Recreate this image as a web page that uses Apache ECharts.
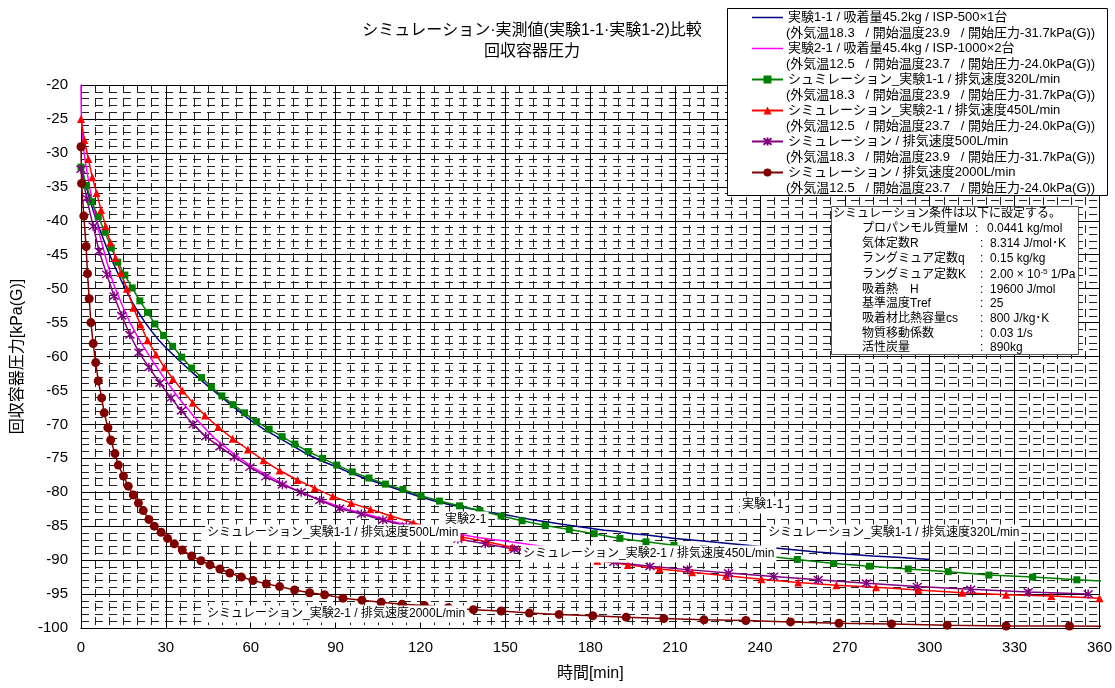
<!DOCTYPE html>
<html>
<head>
<meta charset="utf-8">
<script src="https://cdn.jsdelivr.net/npm/echarts@6/dist/echarts.min.js"></script>
<style>
html,body{margin:0;padding:0;background:#fff;}
#chart{width:1115px;height:688px;}
</style>
</head>
<body>
<div id="chart"></div>
<script>
// ---- data: [time (min), pressure (kPa(G))] ----
const seriesNames = [
  '実験1-1 / 吸着量45.2kg / ISP-500×1台',
  '実験2-1 / 吸着量45.4kg / ISP-1000×2台',
  'シュミレーション_実験1-1 / 排気速度320L/min',
  'シミュレーション_実験2-1 / 排気速度450L/min',
  'シミュレーション / 排気速度500L/min',
  'シミュレーション / 排気速度2000L/min'
];
const legendNotes = [
  '(外気温18.3   / 開始温度23.9   / 開始圧力-31.7kPa(G))',
  '(外気温12.5   / 開始温度23.7   / 開始圧力-24.0kPa(G))',
  '(外気温18.3   / 開始温度23.9   / 開始圧力-31.7kPa(G))',
  '(外気温12.5   / 開始温度23.7   / 開始圧力-24.0kPa(G))',
  '(外気温18.3   / 開始温度23.9   / 開始圧力-31.7kPa(G))',
  '(外気温12.5   / 開始温度23.7   / 開始圧力-24.0kPa(G))'
];

const expt11 = [[0,-31.7],[1,-33.5],[2,-35.2],[3,-36.7],[4,-38.1],[5,-39.4],[6,-40.6],[8,-42.8],[10,-44.9],[12,-46.8],[14,-48.6],[16,-50.3],[18,-51.9],[20,-53.3],[22.5,-54.9],[25,-56.3],[27.5,-57.6],[30,-58.7],[35,-60.7],[40,-62.6],[45,-64.4],[50,-66.1],[55,-67.8],[60,-69.4],[65,-70.8],[70,-72.0],[75,-73.2],[80,-74.4],[85,-75.4],[90,-76.2],[95,-77.1],[100,-77.9],[105,-78.6],[110,-79.3],[115,-80.0],[120,-80.7],[125,-81.3],[130,-81.8],[135,-82.2],[140,-82.6],[145,-83.0],[150,-83.3],[155,-83.7],[160,-84.1],[165,-84.4],[170,-84.7],[175,-85.0],[180,-85.3],[185,-85.6],[190,-85.8],[195,-86.1],[200,-86.3],[210,-86.8],[220,-87.2],[230,-87.6],[240,-88.0],[250,-88.4],[260,-88.8],[270,-89.1],[280,-89.4],[290,-89.6],[300,-89.9]];

const expt21 = [[0,-20],[0.1,-24.2],[0.8,-29.1],[2,-32.5],[3.2,-35.4],[4.9,-38.9],[6.7,-42.3],[9.1,-46.0],[11.4,-49.2],[14.4,-52.3],[17.3,-55.0],[20.8,-57.7],[24.9,-60.4],[29.6,-63.3],[34.3,-66.0],[40.2,-69.0],[47.3,-72.1],[54.4,-74.5],[61.4,-76.5],[68.5,-78.1],[75.5,-79.6],[82.6,-80.8],[89.1,-81.8],[95,-82.6],[100.8,-83.2],[107.9,-84.1],[115,-84.8],[122,-85.4],[129.7,-85.9],[140.8,-86.7],[153.8,-87.4],[162,-87.9],[170,-88.3]];

const sim320 = [[0,-32.1],[1.9,-34.8],[3.8,-37.2],[6.1,-39.4],[8.5,-41.7],[10.7,-44.0],[13,-46.1],[15.5,-48.0],[18.1,-49.9],[20.8,-51.8],[23.5,-53.5],[26.1,-55.2],[29.2,-56.9],[32.4,-58.5],[35.6,-60.1],[39.1,-61.7],[42.6,-63.1],[46.1,-64.5],[49.8,-65.8],[53.8,-67.1],[57.8,-68.3],[62,-69.6],[66.5,-70.7],[71.1,-71.8],[75.6,-72.9],[80.3,-74.0],[85.4,-75.0],[90.4,-76.0],[95.9,-77.0],[101.8,-77.9],[107.6,-78.8],[113.8,-79.6],[120.2,-80.5],[126.7,-81.3],[133.8,-82.0],[141,-82.7],[148.5,-83.5],[155.9,-84.2],[164.1,-84.9],[172.6,-85.5],[181.4,-86.1],[190.5,-86.8],[199.7,-87.3],[209.6,-87.8],[220,-88.3],[230.5,-88.8],[242,-89.4],[253.2,-89.9],[266.1,-90.5],[278.7,-90.9],[292.4,-91.3],[306.5,-91.7],[320.9,-92.2],[336.4,-92.5],[352,-92.9],[368,-93.2]];

const sim450 = [[0,-25.0],[1.2,-28.1],[2.6,-30.9],[4,-33.6],[5.5,-35.9],[7.1,-38.4],[8.7,-40.8],[10.4,-43.2],[12.2,-45.5],[14.1,-47.7],[16.2,-50.0],[18.5,-52.8],[21,-55.3],[23.5,-57.6],[26.5,-59.7],[29.5,-61.6],[32.5,-63.3],[35.8,-65.0],[39.5,-66.8],[43.8,-68.7],[48.5,-70.4],[53.6,-72.1],[59,-73.7],[64.5,-75.3],[70.2,-76.8],[76.5,-78.2],[82.6,-79.4],[89,-80.6],[95.5,-81.6],[102.3,-82.5],[109.5,-83.5],[117.5,-84.5],[126,-85.6],[134.5,-86.6],[143.5,-87.3],[152.4,-88.1],[162,-88.8],[172,-89.4],[182.5,-90.1],[193.3,-90.7],[204.5,-91.3],[216,-91.8],[228,-92.3],[240.5,-92.8],[253.5,-93.3],[267,-93.7],[281,-94.0],[296,-94.4],[311.5,-94.8],[327,-95.1],[343,-95.3],[360,-95.6]];

const sim500 = [[0,-32.4],[2,-36.7],[4.3,-40.8],[6.4,-44.5],[9.1,-47.9],[11.7,-51.1],[14.4,-54.0],[17.3,-56.8],[20.5,-59.4],[24,-61.6],[27.9,-63.9],[31.8,-66.1],[35.5,-68.0],[39.6,-70.0],[44.1,-71.8],[49.1,-73.3],[54.2,-74.8],[59.7,-76.3],[65.3,-77.7],[71.2,-78.9],[77.8,-80.0],[84.4,-81.2],[91.4,-82.4],[99.1,-83.2],[106.7,-84.1],[115,-85.0],[123.8,-85.9],[133.2,-86.9],[142.9,-87.6],[153.2,-88.4],[164,-89.0],[175.8,-89.7],[188.3,-90.3],[201.1,-90.9],[214.4,-91.4],[228.9,-91.9],[244.8,-92.4],[260.6,-92.9],[277.6,-93.4],[295.6,-93.9],[314.5,-94.3],[334.8,-94.7],[356,-95.0]];

const sim2000 = [[0,-29.1],[0.2,-34.5],[1,-39.3],[1.8,-43.8],[2.3,-47.8],[2.9,-51.5],[3.5,-55.0],[4.3,-58.1],[5.2,-60.9],[6.1,-63.6],[7.3,-66.1],[8.2,-68.3],[9.5,-70.5],[10.5,-72.3],[12,-74.3],[13.2,-76.0],[15,-77.6],[16.7,-79.1],[18.5,-80.4],[20.3,-81.6],[22,-82.7],[24,-84.0],[25.9,-85.0],[28.3,-85.9],[30.6,-86.8],[33,-87.6],[35.8,-88.5],[39.1,-89.4],[42.4,-90.1],[45.6,-90.7],[49.1,-91.3],[52.6,-91.9],[56.7,-92.5],[60.8,-93.0],[65.5,-93.5],[70.2,-93.9],[75.5,-94.4],[80.8,-94.8],[86.1,-95.1],[92.6,-95.6],[99.3,-95.9],[106.1,-96.2],[113.5,-96.5],[121.4,-96.7],[129.8,-97.0],[138.7,-97.3],[148.5,-97.5],[158.5,-97.8],[169,-98.0],[180.9,-98.2],[192.7,-98.4],[206,-98.6],[220.2,-98.8],[235,-98.9],[250.8,-99.1],[267.9,-99.3],[286.5,-99.4],[306.2,-99.6],[327,-99.7],[349.4,-99.7],[372,-99.8]];

// simulation settings listed in the note box
const paramLabels = ['プロパンモル質量M','気体定数R','ラングミュア定数q','ラングミュア定数K','吸着熱　H','基準温度Tref','吸着材比熱容量cs','物質移動係数','活性炭量'];
const paramValues = ['0.0441 kg/mol','8.314 J/mol･K','0.15 kg/kg','2.00 × 10{sup|-5} 1/Pa','19600 J/mol','25','800 J/kg･K','0.03 1/s','890kg'];

const FONT = "'Liberation Sans','Noto Sans CJK JP',sans-serif";
const asterisk = 'path://M5,0L5,10M1,1L9,9M9,1L1,9';
// plain line icon for the measured series (no marker); corner specks keep a 31x10 box
const lineIcon = 'path://M0,0h0.01v0.01h-0.01z M0,4.25h31v1.5h-31z M30.99,9.99h0.01v0.01h-0.01z';

const chart = echarts.init(document.getElementById('chart'), null, {renderer: 'canvas'});

function lineSeries(name, data, color, symbol, size, extra) {
  return Object.assign({
    name: name,
    type: 'line',
    data: data,
    symbol: symbol,
    symbolSize: size,
    showSymbol: symbol !== 'none',
    lineStyle: {color: color, width: 1.5},
    itemStyle: {color: color},
    emphasis: {disabled: true},
    clip: true
  }, extra || {});
}

const graphics = [];
// legend frame and second lines
graphics.push({type: 'rect', z: 3, shape: {x: 727.5, y: 8.5, width: 380, height: 187},
  style: {fill: '#fff', stroke: '#000', lineWidth: 1}});
legendNotes.forEach(function (t, i) {
  graphics.push({type: 'text', z: 6, x: 786, y: 33 + 31 * i,
    style: {text: t, fontSize: 13, fontFamily: FONT, fill: '#000', verticalAlign: 'middle'}});
});
// settings note box
graphics.push({type: 'rect', z: 3, shape: {x: 831.5, y: 206.5, width: 247, height: 148},
  style: {fill: '#fff', stroke: '#555', lineWidth: 1}});
graphics.push({type: 'text', z: 6, x: 833, y: 214,
  style: {text: 'シミュレーション条件は以下に設定する。', fontSize: 12, fontFamily: FONT, fill: '#000', verticalAlign: 'middle'}});
const rowY = [229, 244, 259, 275, 290, 304, 319, 334, 348];
paramLabels.forEach(function (t, i) {
  graphics.push({type: 'text', z: 6, x: 862, y: rowY[i],
    style: {text: t, fontSize: 12, fontFamily: FONT, fill: '#000', verticalAlign: 'middle'}});
  graphics.push({type: 'text', z: 6, x: i === 0 ? 975 : 980, y: rowY[i],
    style: {text: ':', fontSize: 12, fontFamily: FONT, fill: '#000', verticalAlign: 'middle'}});
  graphics.push({type: 'text', z: 6, x: i === 0 ? 987 : 990, y: rowY[i],
    style: {text: paramValues[i], fontSize: 12, fontFamily: FONT, fill: '#000', verticalAlign: 'middle',
      rich: {sup: {fontSize: 8, fontFamily: FONT, verticalAlign: 'top', padding: [0, 0, 6, 0]}}}});
});
// curve captions
const captions = [
  ['実験1-1', 740, 505],
  ['シミュレーション_実験1-1 / 排気速度320L/min', 766, 533],
  ['実験2-1', 443, 520],
  ['シミュレーション_実験2-1 / 排気速度450L/min', 521, 554],
  ['シミュレーション_実験1-1 / 排気速度500L/min', 205, 533],
  ['シミュレーション_実験2-1 / 排気速度2000L/min', 205, 614]
];
captions.forEach(function (c) {
  graphics.push({type: 'text', z: 6, x: c[1], y: c[2],
    style: {text: c[0], fontSize: 12, fontFamily: FONT, fill: '#000', verticalAlign: 'middle',
      backgroundColor: '#fff', padding: [3, 2, 2, 2]}});
});
// title
graphics.push({type: 'text', z: 6, x: 532, y: 31,
  style: {text: 'シミュレーション·実測値(実験1-1·実験1-2)比較', fontSize: 16, fontFamily: FONT, fill: '#000', align: 'center', verticalAlign: 'middle'}});
graphics.push({type: 'text', z: 6, x: 532, y: 52,
  style: {text: '回収容器圧力', fontSize: 16, fontFamily: FONT, fill: '#000', align: 'center', verticalAlign: 'middle'}});

const legendData = seriesNames.map(function (n, i) {
  return i < 2 ? {name: n, icon: lineIcon} : {name: n};
});

const option = {
  animation: false,
  backgroundColor: '#fff',
  textStyle: {fontFamily: FONT},
  grid: {left: 81, right: 14, top: 85, bottom: 60, containLabel: false},
  legend: {
    orient: 'vertical', left: 751, top: 10, z: 5,
    itemWidth: 31, itemHeight: 10, itemGap: 16, padding: 0,
    selectedMode: false,
    textStyle: {fontSize: 13, lineHeight: 15, color: '#000', fontFamily: FONT},
    data: legendData
  },
  xAxis: {
    type: 'value', min: 0, max: 360, interval: 30,
    name: '時間[min]', nameLocation: 'middle', nameGap: 38,
    nameTextStyle: {fontSize: 16, color: '#000', fontFamily: FONT},
    axisLine: {show: true, onZero: false, lineStyle: {color: '#000', width: 1}},
    axisTick: {show: false},
    axisLabel: {fontSize: 15, color: '#000', margin: 12, fontFamily: FONT},
    splitLine: {show: true, lineStyle: {color: '#000', width: 1}},
    minorTick: {show: false, splitNumber: 6},
    minorSplitLine: {show: true, lineStyle: {color: '#222', width: 1, type: [8, 6]}}
  },
  yAxis: {
    type: 'value', min: -100, max: -20, interval: 5,
    name: '回収容器圧力[kPa(G)]', nameLocation: 'middle', nameGap: 55, nameRotate: 90,
    nameTextStyle: {fontSize: 16, color: '#000', fontFamily: FONT},
    axisLine: {show: true, onZero: false, lineStyle: {color: '#000', width: 1}},
    axisTick: {show: false},
    axisLabel: {fontSize: 15, color: '#000', margin: 13, fontFamily: FONT},
    splitLine: {show: true, lineStyle: {color: '#000', width: 1}},
    minorTick: {show: false, splitNumber: 5},
    minorSplitLine: {show: true, lineStyle: {color: '#222', width: 1, type: [8, 6]}}
  },
  series: [
    lineSeries(seriesNames[0], expt11, '#000080', 'none', 0),
    lineSeries(seriesNames[1], expt21, '#FF00FF', 'none', 0),
    lineSeries(seriesNames[2], sim320, '#008000', 'rect', 7),
    lineSeries(seriesNames[3], sim450, '#FF0000', 'triangle', 8),
    lineSeries(seriesNames[4], sim500, '#800080', asterisk, 9,
      {itemStyle: {color: '#800080', borderColor: '#800080', borderWidth: 1.5}}),
    lineSeries(seriesNames[5], sim2000, '#800000', 'circle', 9)
  ],
  graphic: {elements: graphics}
};
chart.setOption(option);
</script>
</body>
</html>
